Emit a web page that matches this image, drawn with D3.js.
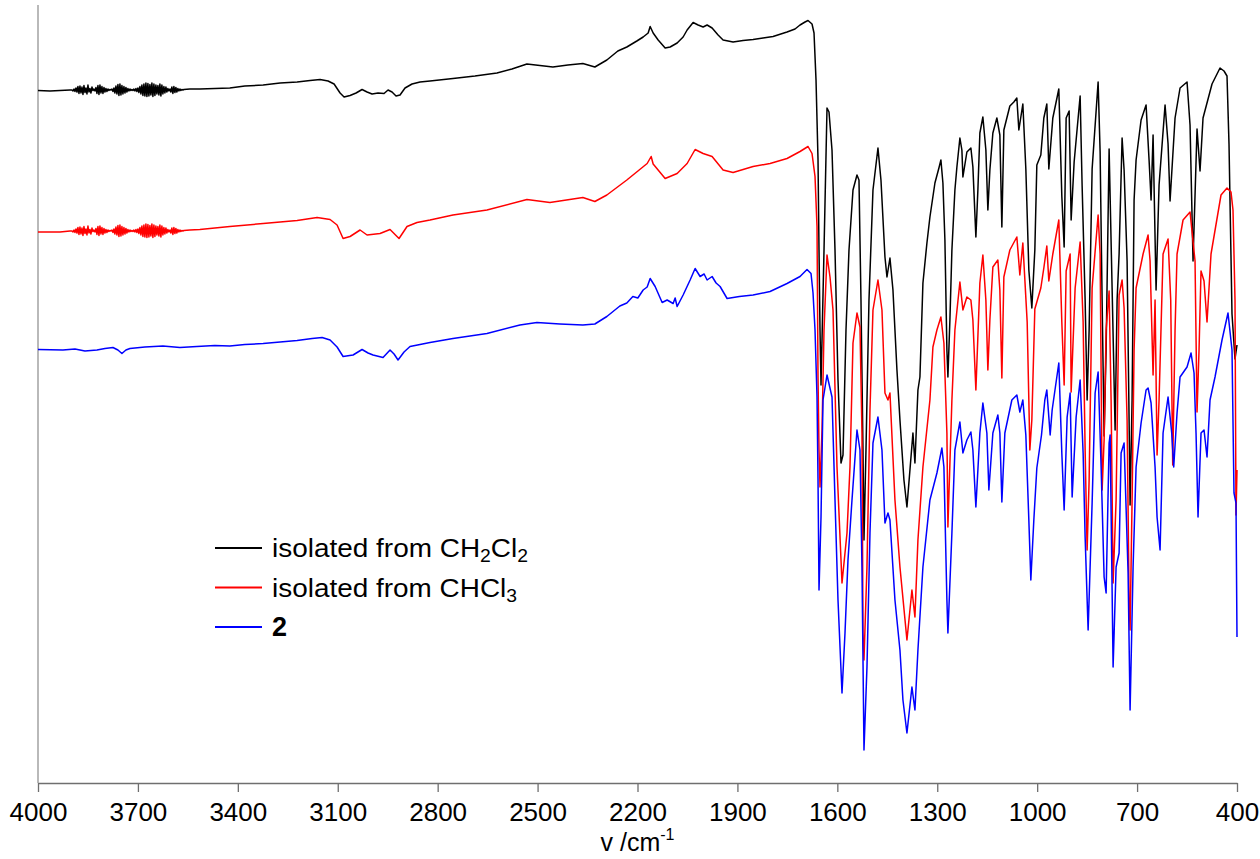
<!DOCTYPE html>
<html>
<head>
<meta charset="utf-8">
<script src="https://cdn.jsdelivr.net/npm/d3@7"></script>
<style>
  html, body { margin: 0; padding: 0; background: #ffffff; }
  svg { display: block; font-family: "Liberation Sans", Arial, Helvetica, sans-serif; }
</style>
</head>
<body>
<svg id="chart" width="1260" height="859"></svg>
<script>
// Wavenumber ticks (cm-1) along the reversed x axis
const wavenumberTicks = [4000, 3700, 3400, 3100, 2800, 2500, 2200, 1900, 1600, 1300, 1000, 700, 400];

// IR spectra, [wavenumber cm-1, transmittance (offset, arb. units)]
const spectrumCH2Cl2 = [
  [4000,138.5],[3964,138.4],[3934,138.5],[3904,138.6],
  [3898,138.6],[3895,138.4],[3892,138.8],[3889,138.3],[3886,139.0],[3883,138.2],[3880,139.3],[3877,137.9],[3874,139.4],[3871,138.0],
  [3868,139.2],[3865,137.7],[3862,139.5],[3859,138.1],[3856,139.0],[3853,137.8],[3850,139.6],[3847,138.2],[3844,138.9],[3841,138.0],
  [3838,139.2],[3835,138.5],[3832,138.8],[3829,138.4],[3826,139.1],[3823,137.9],[3820,139.5],[3817,137.7],[3814,139.6],[3811,138.0],
  [3808,139.3],[3805,137.9],[3802,139.1],[3799,138.2],[3796,138.9],[3793,138.3],[3790,138.8],[3787,138.5],[3784,138.7],[3781,138.6],
  [3778,138.8],[3775,138.3],[3772,139.0],[3769,138.0],[3766,139.4],[3763,137.8],[3760,139.7],[3757,137.5],[3754,139.8],[3751,137.6],
  [3748,139.5],[3745,137.8],[3742,139.3],[3739,138.0],[3736,139.1],[3733,138.2],[3730,138.9],[3727,138.4],[3724,138.8],[3721,138.5],
  [3718,138.7],[3715,138.5],[3712,138.8],[3709,138.4],[3706,138.9],[3703,138.3],[3700,139.0],[3697,138.1],[3694,139.3],[3691,137.8],
  [3688,139.6],[3685,137.5],[3682,139.8],[3679,137.4],[3676,140.0],[3673,137.3],[3670,139.9],[3667,137.4],[3664,139.7],[3661,137.6],
  [3658,140.0],[3655,137.3],[3652,139.8],[3649,137.5],[3646,139.6],[3643,137.8],[3640,139.5],[3637,137.6],[3634,139.8],[3631,137.4],
  [3628,139.6],[3625,137.8],[3622,139.3],[3619,138.0],[3616,139.2],[3613,138.2],[3610,138.9],[3607,138.4],[3604,138.8],[3601,138.2],
  [3598,139.2],[3595,137.9],[3592,139.3],[3589,138.1],[3586,139.1],[3583,138.2],[3580,138.9],[3577,138.4],[3574,138.8],[3571,138.5],
  [3568,138.7],[3565,138.6],[3562,138.7],
  [3544,138.8],[3514,138.8],[3469,138.9],[3424,139.0],[3379,139.4],[3324,139.6],[3273,140.0],[3222,140.2],[3183,140.5],[3153,140.7],
  [3129,140.4],[3111,139.8],[3093,138.0],[3081,137.2],[3063,137.5],[3045,138.0],[3027,138.7],[3012,138.2],[2997,137.8],[2979,138.0],
  [2961,137.9],[2949,138.6],[2937,138.2],[2925,137.4],[2913,137.6],[2898,139.0],[2877,139.8],[2853,140.2],[2823,140.4],[2754,140.9],
  [2688,141.4],[2622,142.0],[2577,142.8],[2532,143.8],[2493,143.5],[2454,143.2],[2409,143.6],[2364,143.9],[2328,143.2],[2292,144.6],
  [2259,146.4],[2232,147.2],[2202,148.4],[2183,149.2],[2168,150.0],[2162,151.3],[2153,150.0],[2138,148.6],[2117,147.0],[2102,147.2],
  [2081,148.0],[2063,149.2],[2051,150.6],[2033,152.1],[2018,151.6],[2003,151.2],[1991,151.6],[1976,151.0],[1958,149.6],[1943,148.6],
  [1913,148.2],[1883,148.5],[1853,148.7],[1823,149.0],[1793,149.3],[1751,150.2],[1727,150.8],[1712,151.6],[1697,152.2],[1688,152.5],
  [1676,151.8],[1670,150.0],[1664,140.6],[1658,124.6],[1655,106.6],[1652,90.6],[1649,79.6],
  [1640,106.6],[1631,135.0],[1625,134.2],[1616,126.6],[1607,106.6],[1598,80.6],[1589,64.0],[1583,65.6],[1574,90.6],[1565,106.6],
  [1553,118.6],[1541,121.6],[1535,120.6],[1529,96.6],[1523,66.6],[1520,48.6],[1514,66.6],[1505,96.6],[1493,118.6],[1478,127.0],
  [1469,120.6],[1457,105.2],[1451,101.2],[1442,105.0],[1433,98.6],[1421,82.6],[1412,72.6],[1400,60.6],[1391,55.2],[1382,62.6],
  [1373,70.0],[1367,64.0],[1358,78.6],[1352,81.2],[1343,100.0],[1331,108.0],[1322,113.2],[1307,120.0],[1295,123.0],[1289,124.6],
  [1283,120.0],[1277,108.6],[1271,86.6],[1268,81.2],[1262,92.6],[1256,106.6],[1247,118.6],[1241,123.2],[1232,129.0],[1226,126.6],
  [1223,121.2],[1211,126.2],[1199,127.0],[1193,123.2],[1184,109.2],[1178,118.6],[1172,130.0],[1163,133.2],[1154,126.6],[1148,114.6],
  [1142,122.6],[1133,130.0],[1121,133.0],[1112,129.6],[1106,111.2],[1100,130.6],[1082,135.4],[1070,136.2],[1061,137.0],[1055,130.6],
  [1043,135.8],[1034,122.8],[1025,102.6],[1016,95.0],[1007,106.6],[1001,123.6],[989,125.6],[980,133.0],[971,135.8],[965,122.8],
  [953,133.0],[935,138.8],[926,117.4],[919,107.2],[913,133.0],[904,134.4],[898,112.6],[889,124.2],[871,137.4],[865,119.4],
  [856,96.6],[850,76.6],[844,90.6],[835,122.8],[817,140.2],[811,126.2],[805,96.6],[799,69.4],[793,86.6],[784,126.8],
  [775,99.0],[766,70.6],[760,96.6],[754,105.8],[745,129.0],[739,122.6],[730,104.4],[724,72.6],[721,55.6],[715,76.6],
  [709,116.6],[703,124.6],[688,132.6],[673,135.6],[664,124.6],[658,116.6],[652,129.6],[643,98.6],[634,119.6],[616,135.6],
  [607,127.8],[601,116.4],[586,133.0],[571,139.0],[550,140.2],[541,131.6],[532,104.4],[520,130.8],[511,122.4],[502,133.0],
  [475,139.8],[451,143.0],[439,142.4],[430,141.4],[424,127.8],[415,93.8],[406,84.8],[400,87.6]
];

const spectrumCHCl3 = [
  [4000,110.2],[3964,110.2],[3934,110.2],[3904,110.4],
  [3898,110.4],[3895,110.2],[3892,110.6],[3889,110.1],[3886,110.8],[3883,110.0],[3880,111.1],[3877,109.7],[3874,111.2],[3871,109.8],
  [3868,111.0],[3865,109.5],[3862,111.3],[3859,109.9],[3856,110.8],[3853,109.6],[3850,111.4],[3847,110.0],[3844,110.7],[3841,109.8],
  [3838,111.0],[3835,110.3],[3832,110.6],[3829,110.2],[3826,110.9],[3823,109.7],[3820,111.3],[3817,109.5],[3814,111.4],[3811,109.8],
  [3808,111.1],[3805,109.7],[3802,110.9],[3799,110.0],[3796,110.7],[3793,110.1],[3790,110.6],[3787,110.3],[3784,110.5],[3781,110.4],
  [3778,110.6],[3775,110.1],[3772,110.8],[3769,109.8],[3766,111.2],[3763,109.6],[3760,111.5],[3757,109.3],[3754,111.6],[3751,109.4],
  [3748,111.3],[3745,109.6],[3742,111.1],[3739,109.8],[3736,110.9],[3733,110.0],[3730,110.7],[3727,110.2],[3724,110.6],[3721,110.3],
  [3718,110.5],[3715,110.3],[3712,110.6],[3709,110.2],[3706,110.7],[3703,110.1],[3700,110.8],[3697,109.9],[3694,111.1],[3691,109.6],
  [3688,111.4],[3685,109.3],[3682,111.6],[3679,109.2],[3676,111.8],[3673,109.1],[3670,111.7],[3667,109.2],[3664,111.5],[3661,109.4],
  [3658,111.8],[3655,109.1],[3652,111.6],[3649,109.3],[3646,111.4],[3643,109.6],[3640,111.3],[3637,109.4],[3634,111.6],[3631,109.2],
  [3628,111.4],[3625,109.6],[3622,111.1],[3619,109.8],[3616,111.0],[3613,110.0],[3610,110.7],[3607,110.2],[3604,110.6],[3601,110.0],
  [3598,111.0],[3595,109.7],[3592,111.1],[3589,109.9],[3586,110.9],[3583,110.0],[3580,110.7],[3577,110.2],[3574,110.6],[3571,110.3],
  [3568,110.5],[3565,110.4],[3562,110.5],
  [3544,110.6],[3514,110.7],[3424,111.3],[3324,111.9],[3222,112.5],[3162,113.1],[3123,112.7],[3102,111.6],[3084,108.9],[3063,109.3],
  [3033,110.6],[3012,109.6],[2973,109.9],[2943,110.7],[2916,108.9],[2892,111.3],[2862,112.1],[2823,112.6],[2754,113.6],[2652,114.6],
  [2532,116.7],[2463,116.1],[2364,117.1],[2328,116.3],[2292,117.6],[2232,120.6],[2171,123.9],[2159,125.3],[2153,123.8],[2117,120.9],
  [2081,121.9],[2051,123.9],[2027,126.7],[2003,125.9],[1976,125.3],[1943,122.6],[1913,122.1],[1853,123.3],[1802,123.9],[1751,124.9],
  [1712,126.3],[1688,127.3],[1676,125.9],[1667,121.3],[1661,111.3],[1658,81.2],[1655,66.6],[1652,59.2],[1646,70.6],[1640,90.6],
  [1631,105.6],[1622,101.2],[1613,94.6],[1601,63.2],[1586,40.0],[1571,50.0],[1562,63.2],[1553,88.0],[1541,94.0],[1532,91.2],
  [1526,70.0],[1523,30.0],[1520,24.6],[1511,43.2],[1502,74.6],[1493,94.6],[1478,100.6],[1466,94.6],[1457,78.0],[1448,76.6],
  [1442,78.0],[1427,56.6],[1412,43.2],[1391,28.6],[1376,38.6],[1367,33.2],[1358,48.6],[1343,63.2],[1322,76.6],[1313,87.2],
  [1301,90.6],[1289,93.2],[1280,88.0],[1271,70.0],[1268,51.2],[1256,76.6],[1247,90.6],[1232,100.2],[1223,94.6],[1211,97.2],
  [1199,96.6],[1193,92.6],[1184,78.6],[1172,100.0],[1163,105.6],[1154,96.6],[1148,82.6],[1142,92.6],[1133,103.2],[1118,104.6],
  [1112,98.6],[1106,81.0],[1100,101.2],[1082,106.6],[1061,109.2],[1052,101.6],[1043,108.0],[1030,92.2],[1025,76.6],[1022,66.6],
  [1016,72.6],[1007,94.8],[989,99.0],[980,103.0],[971,107.4],[965,100.4],[953,105.8],[935,112.6],[926,92.2],[919,79.6],
  [913,102.4],[901,105.8],[898,78.2],[886,99.0],[871,108.2],[862,92.2],[856,66.6],[850,46.6],[844,60.6],[835,99.0],
  [817,113.6],[811,105.8],[805,58.6],[799,68.6],[793,90.6],[784,98.4],[778,76.6],[772,40.0],[763,56.6],[754,97.6],
  [745,100.6],[739,95.0],[730,72.6],[724,36.6],[721,30.6],[715,56.6],[709,86.6],[703,99.0],[682,105.8],[667,109.6],
  [661,104.4],[652,81.6],[646,96.6],[640,65.6],[634,76.6],[622,105.8],[607,108.8],[599,96.6],[593,63.6],[586,90.6],
  [580,105.8],[562,112.6],[541,114.2],[526,104.4],[520,74.2],[514,86.6],[508,102.4],[499,100.4],[490,92.2],[478,105.8],
  [448,117.6],[430,119.0],[418,118.2],[412,114.6],[406,96.6],[403,53.6],[400,62.6]
];

const spectrum2 = [
  [4000,86.7],[3925,86.6],[3889,86.8],[3859,86.4],[3823,86.6],[3799,86.9],[3775,87.1],[3760,86.6],[3748,85.9],[3736,86.6],
  [3724,86.9],[3679,87.2],[3625,87.4],[3574,87.1],[3523,87.3],[3469,87.5],[3424,87.4],[3379,87.7],[3324,87.9],[3273,88.2],
  [3222,88.5],[3177,88.9],[3147,89.1],[3123,88.6],[3102,87.2],[3084,85.3],[3054,85.6],[3027,86.7],[3009,86.0],[2994,85.6],
  [2964,85.1],[2943,86.6],[2931,85.8],[2919,84.6],[2901,86.2],[2883,87.3],[2823,88.1],[2754,88.9],[2652,89.9],[2553,91.6],
  [2502,92.1],[2433,91.8],[2364,91.6],[2328,91.8],[2292,93.3],[2253,95.4],[2232,96.0],[2214,97.3],[2199,97.0],[2183,98.6],
  [2171,99.2],[2162,100.9],[2147,99.3],[2126,96.1],[2111,96.6],[2093,95.9],[2087,97.0],[2081,95.3],[2063,97.6],[2042,100.6],
  [2027,102.9],[2012,101.3],[2000,101.8],[1991,100.6],[1976,101.3],[1964,100.0],[1952,99.3],[1931,96.9],[1894,97.3],[1853,97.6],
  [1802,98.3],[1751,99.9],[1712,101.3],[1691,102.7],[1679,101.9],[1673,98.0],[1667,90.6],[1661,77.2],[1658,60.6],[1655,38.6],
  [1649,53.2],[1643,76.6],[1631,81.6],[1616,77.2],[1607,56.6],[1598,36.6],[1586,18.0],[1577,30.0],[1568,44.6],[1556,56.6],
  [1541,70.6],[1532,66.6],[1526,43.2],[1520,6.6],[1511,23.2],[1502,50.0],[1493,68.0],[1478,73.2],[1466,66.6],[1457,52.0],
  [1448,54.0],[1442,52.6],[1427,36.6],[1412,26.6],[1403,16.6],[1391,10.0],[1376,19.2],[1367,14.6],[1358,26.6],[1343,43.2],
  [1322,56.6],[1301,62.0],[1286,67.0],[1280,63.2],[1271,36.6],[1268,30.0],[1256,50.0],[1247,66.6],[1232,72.2],[1223,66.0],
  [1211,68.6],[1199,70.2],[1193,66.6],[1184,55.2],[1172,70.0],[1163,76.0],[1151,70.0],[1145,58.6],[1133,70.0],[1118,73.6],
  [1112,70.0],[1106,56.2],[1097,70.0],[1076,76.6],[1061,77.6],[1052,74.2],[1043,76.6],[1034,69.6],[1025,52.6],[1019,40.6],
  [1010,52.6],[1001,63.0],[987,69.6],[977,76.6],[971,78.6],[961,69.6],[955,74.6],[935,84.0],[926,66.0],[919,54.6],
  [910,73.2],[901,78.0],[895,57.2],[883,73.2],[871,80.6],[862,66.0],[856,49.2],[847,30.6],[835,56.0],[826,78.0],
  [817,82.2],[808,63.2],[799,41.2],[793,38.0],[784,68.0],[781,69.6],[772,23.2],[763,43.2],[754,46.0],[748,66.0],
  [739,68.0],[727,42.0],[721,14.6],[712,43.2],[703,63.2],[688,72.0],[673,78.6],[667,79.0],[658,76.0],[646,63.2],
  [640,53.2],[631,46.6],[622,70.0],[607,77.2],[596,70.0],[590,63.2],[580,74.0],[571,81.2],[550,83.2],[538,86.0],
  [529,82.0],[523,70.0],[517,53.2],[508,70.0],[499,70.6],[490,65.2],[481,76.6],[466,81.2],[445,88.6],[427,94.0],
  [415,86.6],[409,58.0],[403,56.0],[400,29.2]
];

// Series in drawing order, with their legend labels (text runs; "sub" marks subscripts)
const seriesData = [spectrumCH2Cl2, spectrumCHCl3, spectrum2];
const seriesLabels = [
  [["isolated from CH", ""], ["2", "sub"], ["Cl", ""], ["2", "sub"]],
  [["isolated from CHCl", ""], ["3", "sub"]],
  [["2", "bold"]]
];
const seriesColors = ["#000000", "#ff0000", "#0000ff"];
// rendered widths of the legend labels (wide face of the original figure)
const legendTextWidths = [256, 245, null];

const svg = d3.select("#chart");

const x = d3.scaleLinear().domain([4000, 400]).range([38, 1237]);
const y = d3.scaleLinear().domain([0, 155.6]).range([783, 5]);

// Left (value) axis: a bare line, no ticks
svg.append("line")
  .attr("x1", x(4000)).attr("x2", x(4000))
  .attr("y1", y(155.6)).attr("y2", y(0))
  .attr("stroke", "#8a8a8a").attr("stroke-width", 1.2);

// Bottom wavenumber axis
const xAxis = d3.axisBottom(x)
  .tickValues(wavenumberTicks)
  .tickFormat(d3.format("d"))
  .tickSizeInner(9)
  .tickSizeOuter(0)
  .tickPadding(11);

const gx = svg.append("g")
  .attr("transform", `translate(0,${y(0)})`)
  .call(xAxis);
gx.select(".domain").attr("stroke", "#6f6f6f").attr("stroke-width", 1.3);
gx.selectAll(".tick line").attr("stroke", "#6f6f6f").attr("stroke-width", 1.3);
gx.selectAll(".tick text")
  .attr("fill", "#000")
  .style("font-family", '"Liberation Sans", Arial, sans-serif')
  .style("font-size", "26px");

// Axis title
const title = svg.append("text")
  .attr("x", (x(4000) + x(400)) / 2)
  .attr("y", 851)
  .attr("text-anchor", "middle")
  .style("font-size", "25px")
  .attr("fill", "#000");
title.append("tspan").text("v /cm");
title.append("tspan").text("-1").style("font-size", "16px").attr("dy", -11);

// Spectra
const line = d3.line()
  .x(d => x(d[0]))
  .y(d => y(d[1]));

svg.append("g")
  .selectAll("path")
  .data(seriesData)
  .join("path")
  .attr("d", line)
  .attr("fill", "none")
  .attr("stroke", (d, i) => seriesColors[i])
  .attr("stroke-width", 1.5)
  .attr("stroke-linejoin", "round");

// Legend
const legend = svg.append("g").attr("transform", "translate(215,548)");
seriesLabels.forEach((runs, i) => {
  const row = legend.append("g").attr("transform", `translate(0,${i * 39.5})`);
  row.append("line")
    .attr("x1", 0).attr("x2", 47)
    .attr("y1", 0).attr("y2", 0)
    .attr("stroke", seriesColors[i])
    .attr("stroke-width", 2);
  const t = row.append("text")
    .attr("x", 57)
    .attr("y", 9)
    .attr("fill", "#000")
    .style("font-size", "26px");
  if (legendTextWidths[i]) {
    t.attr("textLength", legendTextWidths[i]).attr("lengthAdjust", "spacingAndGlyphs");
  }
  let shifted = false;
  runs.forEach(([txt, kind]) => {
    const ts = t.append("tspan").text(txt);
    if (kind === "sub") {
      ts.style("font-size", "18px").attr("dy", shifted ? 0 : 5);
      shifted = true;
    } else {
      if (shifted) { ts.attr("dy", -5); shifted = false; }
      if (kind === "bold") ts.style("font-weight", "bold").style("font-size", "27px");
    }
  });
});
</script>
</body>
</html>
